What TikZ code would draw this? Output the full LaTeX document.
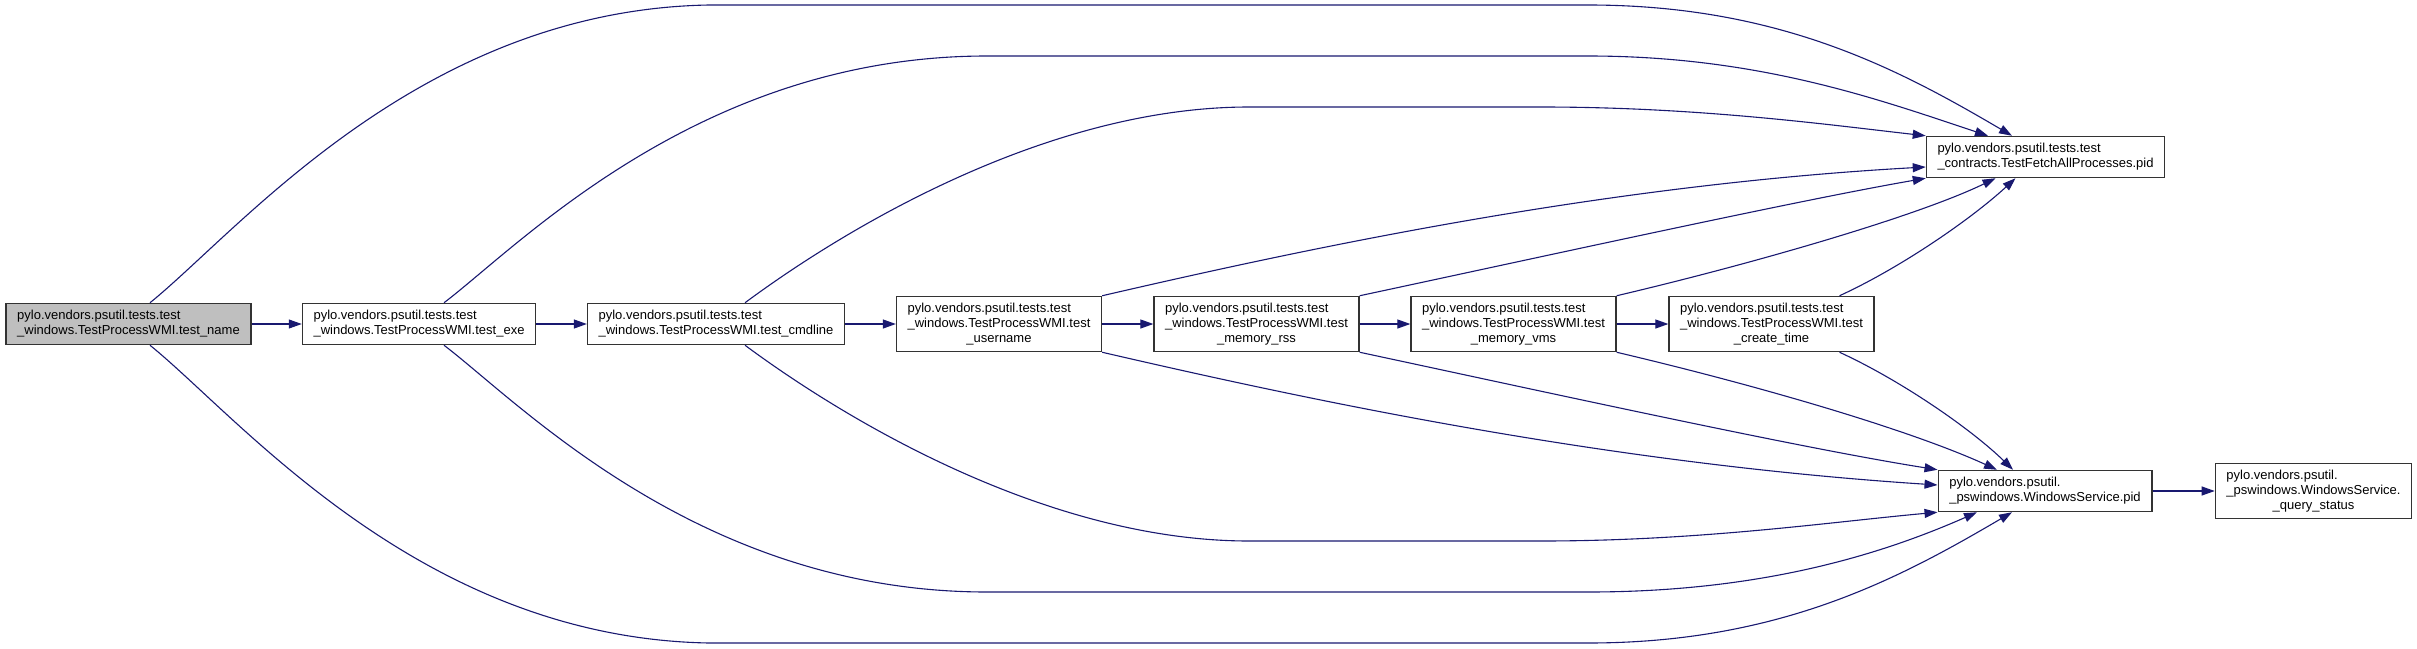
\documentclass[tikz,border=0pt]{standalone}
\usepackage{fontspec}
\setmainfont{Liberation Sans}
\usetikzlibrary{arrows.meta}
\definecolor{edgeblue}{RGB}{25,25,112}
\newcommand\trio[3]{\begin{tabular}{@{}l@{}}#1\\#2\\\multicolumn{1}{@{}c@{}}{#3}\end{tabular}}

\begin{document}
\begin{tikzpicture}[
    x=1pt, y=-1pt,
    fn/.style={draw=black!80, line width=1.5pt, fill=white, align=left,
               font=\fontsize{13}{15}\selectfont, inner xsep=11pt, inner ysep=2pt,
               minimum height=41pt},
    fn3/.style={fn, minimum height=55pt},
    call/.style={draw=edgeblue, line width=1.1pt,
                 -{Triangle[length=13pt,width=9pt]}},
  ]
  \useasboundingbox (0,0) rectangle (2417,648);

  % the chain of tests
  \node[fn, fill=black!25] (name) at (128.5,324)
    {pylo.vendors.psutil.tests.test\\\_windows.TestProcessWMI.test\_name};
  \node[fn] (exe) at (419,324)
    {pylo.vendors.psutil.tests.test\\\_windows.TestProcessWMI.test\_exe};
  \node[fn] (cmd) at (716,324)
    {pylo.vendors.psutil.tests.test\\\_windows.TestProcessWMI.test\_cmdline};
  \node[fn3] (user) at (999,324)
    {\trio{pylo.vendors.psutil.tests.test}{\_windows.TestProcessWMI.test}{\_username}};
  \node[fn3] (rss) at (1256.5,324)
    {\trio{pylo.vendors.psutil.tests.test}{\_windows.TestProcessWMI.test}{\_memory\_rss}};
  \node[fn3] (vms) at (1513.5,324)
    {\trio{pylo.vendors.psutil.tests.test}{\_windows.TestProcessWMI.test}{\_memory\_vms}};
  \node[fn3] (ctime) at (1771.5,324)
    {\trio{pylo.vendors.psutil.tests.test}{\_windows.TestProcessWMI.test}{\_create\_time}};

  % the callees
  \node[fn] (fetch) at (2045.5,157)
    {pylo.vendors.psutil.tests.test\\\_contracts.TestFetchAllProcesses.pid};
  \node[fn] (wspid) at (2045,491)
    {pylo.vendors.psutil.\\\_pswindows.WindowsService.pid};
  \node[fn3] (qs) at (2313.5,491)
    {\trio{pylo.vendors.psutil.}{\_pswindows.WindowsService.}{\_query\_status}};

  \draw[call] (name) -- (exe);
  \draw[call] (exe) -- (cmd);
  \draw[call] (cmd) -- (user);
  \draw[call] (user) -- (rss);
  \draw[call] (rss) -- (vms);
  \draw[call] (vms) -- (ctime);
  \draw[call] (wspid) -- (qs);

  % up to TestFetchAllProcesses.pid
  \draw[call] ([xshift=21.5pt]name.north) .. controls (240,230) and (420,10) .. (709,5)
    -- (1588,5) .. controls (1780,5) and (1900,70) .. ([xshift=-33.5pt]fetch.north);
  \draw[call] ([xshift=25pt]exe.north) .. controls (520,245) and (700,56) .. (987,56)
    -- (1588,56) .. controls (1760,56) and (1880,100) .. ([xshift=-57.5pt]fetch.north);
  \draw[call] ([xshift=29pt]cmd.north) .. controls (850,225) and (1050,107) .. (1249,107)
    -- (1541,107) .. controls (1700,107) and (1830,125) .. (fetch.north west);
  \draw[call] (user.north east) .. controls (1300,250) and (1600,185) .. ([yshift=-10pt]fetch.west);
  \draw[call] (rss.north east) .. controls (1550,255) and (1800,200) .. (fetch.south west);
  \draw[call] (vms.north east) .. controls (1760,262) and (1920,215) .. ([xshift=-50pt]fetch.south);
  \draw[call] ([xshift=68pt]ctime.north) .. controls (1900,268) and (1970,220) .. ([xshift=-30pt]fetch.south);

  % down to WindowsService.pid
  \draw[call] ([xshift=21.5pt]name.south) .. controls (240,418) and (420,638) .. (709,643)
    -- (1588,643) .. controls (1780,643) and (1900,578) .. ([xshift=-33pt]wspid.south);
  \draw[call] ([xshift=25pt]exe.south) .. controls (520,403) and (700,592) .. (987,592)
    -- (1588,592) .. controls (1760,592) and (1880,555) .. ([xshift=-68pt]wspid.south);
  \draw[call] ([xshift=29pt]cmd.south) .. controls (850,423) and (1050,541) .. (1249,541)
    -- (1541,541) .. controls (1700,541) and (1830,522) .. (wspid.south west);
  \draw[call] (user.south east) .. controls (1300,398) and (1600,463) .. ([yshift=6pt]wspid.west);
  \draw[call] (rss.south east) .. controls (1550,393) and (1800,448) .. (wspid.north west);
  \draw[call] (vms.south east) .. controls (1760,386) and (1910,430) .. ([xshift=-48pt]wspid.north);
  \draw[call] ([xshift=68pt]ctime.south) .. controls (1900,380) and (1970,428) .. ([xshift=-32pt]wspid.north);
\end{tikzpicture}
\end{document}
